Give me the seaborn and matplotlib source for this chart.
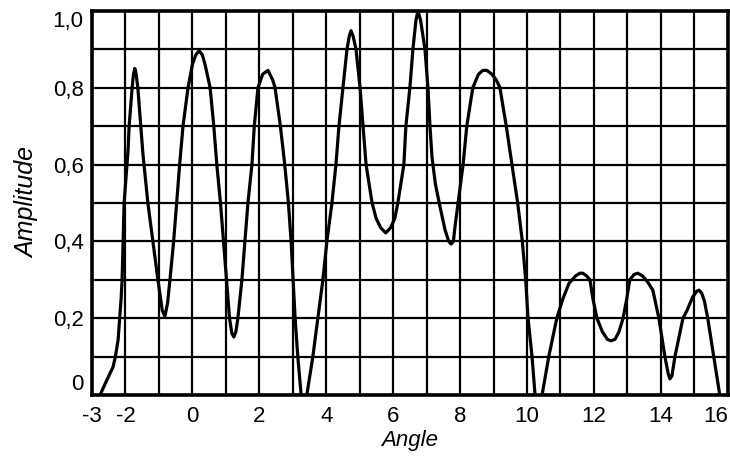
import numpy as np
import pandas as pd
import matplotlib.pyplot as plt
import seaborn as sns

sns.set_theme(style="white")
plt.rcParams['font.family'] = ['Liberation Sans', 'DejaVu Sans']

# Pontos (ângulo, amplitude)
angle = [-2.76, -2.55, -2.37, -2.30, -2.22, -2.13, -2.10, -2.04, -1.92, -1.89, -1.80, -1.76,
         -1.72, -1.68, -1.63, -1.54, -1.48, -1.33, -1.18, -1.03, -0.90, -0.82, -0.74, -0.67,
         -0.56, -0.47, -0.38, -0.28, -0.13, 0.00, 0.10, 0.20, 0.30, 0.38, 0.53, 0.64,
         0.73, 0.84, 0.93, 1.02, 1.11, 1.18, 1.24, 1.30, 1.36, 1.48, 1.57, 1.66,
         1.78, 1.85, 1.96, 2.10, 2.26, 2.40, 2.47, 2.63, 2.76, 2.87, 2.95, 3.01,
         3.07, 3.15, 3.25, 3.33, 3.42, 3.60, 3.75, 3.90, 4.02, 4.17, 4.29, 4.38,
         4.50, 4.62, 4.69, 4.74, 4.80, 4.89, 5.01, 5.10, 5.19, 5.37, 5.49, 5.63,
         5.78, 5.92, 6.05, 6.14, 6.32, 6.38, 6.50, 6.59, 6.68, 6.74, 6.82, 6.95,
         7.04, 7.10, 7.16, 7.26, 7.40, 7.55, 7.66, 7.73, 7.80, 7.85, 7.94, 8.09,
         8.20, 8.38, 8.55, 8.68, 8.80, 8.95, 9.08, 9.19, 9.38, 9.55, 9.72, 9.86,
         9.96, 10.03, 10.15, 10.24, 10.33, 10.45, 10.65, 10.89, 11.07, 11.25, 11.45, 11.58,
         11.67, 11.78, 11.88, 11.97, 12.09, 12.25, 12.40, 12.51, 12.63, 12.75, 12.87, 12.98,
         13.07, 13.20, 13.31, 13.45, 13.60, 13.76, 13.94, 14.12, 14.22, 14.27, 14.33, 14.42,
         14.66, 14.78, 14.95, 15.07, 15.14, 15.22, 15.30, 15.40, 15.58, 15.76, 15.85]
amplitude = [0.00, 0.04, 0.073, 0.10, 0.143, 0.25, 0.30, 0.50, 0.64, 0.70, 0.80, 0.835,
             0.85, 0.835, 0.80, 0.70, 0.63, 0.50, 0.40, 0.30, 0.22, 0.205, 0.24, 0.30,
             0.40, 0.50, 0.60, 0.70, 0.80, 0.86, 0.885, 0.896, 0.885, 0.86, 0.80, 0.70,
             0.60, 0.50, 0.40, 0.30, 0.20, 0.16, 0.151, 0.165, 0.20, 0.30, 0.40, 0.50,
             0.60, 0.70, 0.80, 0.835, 0.845, 0.82, 0.80, 0.70, 0.60, 0.50, 0.40, 0.30,
             0.20, 0.10, 0.00, -0.03, 0.00, 0.10, 0.20, 0.30, 0.40, 0.50, 0.60, 0.70,
             0.80, 0.90, 0.935, 0.948, 0.935, 0.90, 0.80, 0.70, 0.60, 0.50, 0.46, 0.435,
             0.422, 0.435, 0.46, 0.50, 0.60, 0.70, 0.80, 0.90, 0.975, 1.00, 0.975, 0.90,
             0.80, 0.70, 0.62, 0.55, 0.49, 0.43, 0.40, 0.393, 0.40, 0.44, 0.50, 0.60,
             0.70, 0.80, 0.835, 0.845, 0.845, 0.835, 0.82, 0.80, 0.70, 0.60, 0.50, 0.40,
             0.30, 0.20, 0.10, 0.00, -0.03, 0.00, 0.10, 0.20, 0.25, 0.29, 0.31, 0.317,
             0.317, 0.31, 0.30, 0.25, 0.20, 0.165, 0.145, 0.141, 0.145, 0.165, 0.20, 0.25,
             0.30, 0.314, 0.317, 0.31, 0.295, 0.273, 0.20, 0.10, 0.055, 0.042, 0.05, 0.10,
             0.20, 0.22, 0.255, 0.27, 0.273, 0.265, 0.245, 0.20, 0.10, 0.00, -0.04]

x_ticks = list(range(-3, 17))
x_labels = ['-3', '-2', '', '0', '', '2', '', '4', '', '6', '', '8', '', '10', '', '12', '', '14', '', '16']
y_ticks = [0.0, 0.1, 0.2, 0.3, 0.4, 0.5, 0.6, 0.7, 0.8, 0.9, 1.0]
y_labels = ['0', '', '0,2', '', '0,4', '', '0,6', '', '0,8', '', '1,0']

df = pd.DataFrame({'Angle': angle, 'Amplitude': amplitude})

fig = plt.figure(figsize=(7.3, 4.59), dpi=100)
ax = fig.add_axes([0.126, 0.1394, 0.871, 0.837])
sns.lineplot(data=df, x='Angle', y='Amplitude', sort=False, estimator=None,
             color='black', linewidth=2.3, ax=ax, zorder=3)

ax.set_xlim(-3, 16)
ax.set_ylim(0, 1.0)
ax.set_xticks(x_ticks)
ax.set_xticklabels(x_labels)
ax.set_yticks(y_ticks)
ax.set_yticklabels(y_labels)
ax.tick_params(axis='both', length=0, labelsize=16, colors='black')
ax.tick_params(axis='x', pad=8)
ax.tick_params(axis='y', pad=6)

# primeiro/último rótulo encostados dentro dos limites, como no original
ax.get_xticklabels()[-1].set_horizontalalignment('right')
ax.get_yticklabels()[0].set_verticalalignment('bottom')
ax.get_yticklabels()[-1].set_verticalalignment('top')

ax.grid(True, color='black', linewidth=1.6)
for s in ax.spines.values():
    s.set_color('black')
    s.set_linewidth(2.6)
    s.set_zorder(4)

ax.set_xlabel('Angle', fontsize=16, fontstyle='italic', color='black', labelpad=2)
ax.set_ylabel('Amplitude', fontsize=18, fontstyle='italic', color='black', labelpad=10)

fig.savefig('out.png', dpi=100)
